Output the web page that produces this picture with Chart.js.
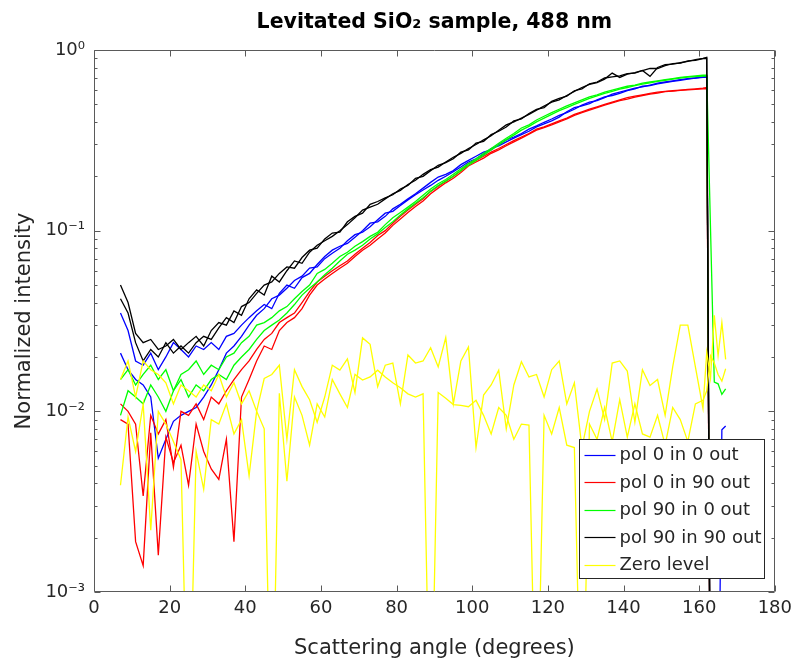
<!DOCTYPE html>
<html><head><meta charset="utf-8">
<script src="https://cdn.jsdelivr.net/npm/chart.js@4.4.1/dist/chart.umd.min.js"></script>
<style>html,body{margin:0;padding:0;background:#fff;} canvas{display:block;}</style>
</head><body>
<canvas id="c" width="798" height="661"></canvas>
<script>
const angles = [7,9,11,13,15,17,19,21,23,25,27,29,31,33,35,37,39,41,43,45,47,49,51,53,55,57,59,61,63,65,67,69,71,73,75,77,79,81,83,85,87,89,91,93,95,97,99,101,103,105,107,109,111,113,115,117,119,121,123,125,127,129,131,133,135,137,139,141,143,145,147,149,151,153,155,157,159,161,162,163,164,165,166,167];

const pol0in0A = [0.035,0.028,0.019,0.018,0.021,0.017,0.020,0.024,0.022,0.020,
0.023,0.022,0.024,0.022,0.026,0.027,0.030,0.033,0.036,0.039,
0.037,0.045,0.050,0.048,0.055,0.058,0.065,0.072,0.078,0.082,
0.085,0.092,0.100,0.110,0.112,0.120,0.132,0.140,0.150,0.160,
0.172,0.185,0.198,0.205,0.215,0.232,0.245,0.258,0.272,0.280,
0.300,0.318,0.330,0.345,0.365,0.380,0.398,0.415,0.435,0.450,
0.470,0.495,0.515,0.525,0.545,0.570,0.585,0.600,0.615,0.625,
0.640,0.655,0.665,0.675,0.685,0.695,0.700,0.710,
0.715,0.0001,null,null,null,null];
const pol0in0B = [0.021,0.017,0.015,0.014,0.012,0.0055,0.0070,0.0088,0.0095,0.010,
0.0105,0.012,0.014,0.017,0.021,0.023,0.026,0.030,0.034,0.037,
0.042,0.044,0.048,0.053,0.056,0.062,0.063,0.070,0.075,0.080,
0.088,0.095,0.098,0.105,0.115,0.125,0.128,0.138,0.148,0.158,
0.168,0.178,0.190,0.200,0.212,0.225,0.240,0.250,0.265,0.285,
0.295,0.310,0.325,0.340,0.355,0.375,0.390,0.405,0.425,0.455,
0.480,0.490,0.505,0.530,0.550,0.560,0.575,0.595,0.610,0.630,
0.635,0.650,0.660,0.670,0.680,0.690,0.700,0.705,
0.705,0.0001,0.0001,0.0001,0.0079,0.0083];

const pol0in90A = [0.011,0.010,0.0085,0.0034,0.0095,0.0075,0.009,0.0049,0.010,0.0095,
0.011,0.009,0.012,0.011,0.013,0.015,0.017,0.019,0.022,0.025,
0.027,0.031,0.033,0.035,0.040,0.046,0.052,0.056,0.060,0.064,
0.068,0.074,0.080,0.086,0.094,0.100,0.110,0.120,0.130,0.140,
0.150,0.165,0.176,0.188,0.200,0.215,0.235,0.245,0.258,0.272,
0.285,0.300,0.315,0.330,0.345,0.365,0.375,0.390,0.405,0.420,
0.440,0.455,0.470,0.485,0.500,0.515,0.530,0.545,0.555,0.565,
0.575,0.585,0.590,0.595,0.600,0.605,0.610,0.615,
0.620,0.0001,null,null,null,null];
const pol0in90B = [0.009,0.0085,0.0019,0.0014,0.0076,0.0016,0.0072,0.0052,0.0065,0.0039,
0.0085,0.0060,0.0048,0.0042,0.0070,0.0019,0.012,0.015,0.019,0.023,
0.022,0.028,0.031,0.033,0.037,0.044,0.050,0.054,0.058,0.062,
0.066,0.072,0.078,0.083,0.090,0.097,0.107,0.116,0.126,0.136,
0.146,0.160,0.172,0.184,0.195,0.210,0.228,0.240,0.252,0.268,
0.280,0.295,0.310,0.325,0.342,0.360,0.372,0.385,0.400,0.415,
0.435,0.450,0.465,0.480,0.495,0.510,0.525,0.535,0.548,0.560,
0.570,0.578,0.588,0.592,0.598,0.602,0.605,0.610,
0.612,0.0001,null,null,null,null];

const pol90in0A = [0.015,0.017,0.014,0.016,0.018,0.015,0.017,0.013,0.016,0.017,
0.019,0.016,0.018,0.017,0.020,0.021,0.024,0.026,0.030,0.031,
0.033,0.036,0.038,0.042,0.046,0.050,0.058,0.061,0.066,0.072,
0.076,0.082,0.087,0.093,0.098,0.108,0.118,0.126,0.135,0.145,
0.157,0.170,0.182,0.192,0.205,0.220,0.235,0.250,0.268,0.285,
0.305,0.325,0.345,0.370,0.385,0.410,0.430,0.450,0.470,0.490,
0.510,0.530,0.550,0.565,0.585,0.600,0.615,0.630,0.640,0.655,
0.665,0.675,0.685,0.695,0.705,0.712,0.718,0.725,
0.725,null,0.0145,0.0142,0.0124,0.0133];
const pol90in0B = [0.0095,0.013,0.012,0.011,0.014,0.012,0.010,0.013,0.015,0.012,
0.014,0.013,0.015,0.016,0.015,0.018,0.020,0.022,0.025,0.028,
0.030,0.032,0.035,0.039,0.044,0.048,0.052,0.057,0.062,0.068,
0.074,0.078,0.083,0.090,0.096,0.104,0.112,0.122,0.132,0.142,
0.152,0.165,0.178,0.188,0.200,0.215,0.230,0.245,0.262,0.280,
0.298,0.318,0.338,0.360,0.378,0.400,0.420,0.440,0.462,0.480,
0.500,0.520,0.540,0.558,0.575,0.590,0.608,0.620,0.635,0.648,
0.658,0.670,0.680,0.690,0.700,0.708,0.712,0.718,
0.720,0.0001,null,null,null,null];

const pol90in90A = [0.050,0.040,0.027,0.024,0.025,0.022,0.023,0.025,0.022,0.024,
0.026,0.023,0.028,0.031,0.030,0.036,0.034,0.042,0.047,0.044,
0.056,0.052,0.060,0.068,0.066,0.076,0.083,0.088,0.093,0.100,
0.108,0.118,0.130,0.135,0.140,0.150,0.160,0.167,0.180,0.190,
0.205,0.218,0.225,0.240,0.255,0.268,0.285,0.300,0.318,0.335,
0.360,0.385,0.400,0.420,0.440,0.465,0.490,0.515,0.530,0.560,
0.590,0.620,0.645,0.660,0.690,0.745,0.705,0.735,0.750,0.770,
0.715,0.800,0.830,0.835,0.850,0.865,0.885,0.900,
0.910,0.0001,null,null,null,null];
const pol90in90B = [0.042,0.035,0.024,0.019,0.022,0.020,0.024,0.021,0.023,0.021,
0.024,0.026,0.025,0.029,0.033,0.031,0.038,0.040,0.045,0.050,
0.052,0.058,0.063,0.062,0.071,0.078,0.080,0.090,0.097,0.098,
0.112,0.120,0.125,0.140,0.145,0.152,0.158,0.170,0.178,0.195,
0.200,0.215,0.230,0.238,0.250,0.272,0.280,0.305,0.312,0.340,
0.355,0.375,0.405,0.415,0.445,0.470,0.480,0.520,0.540,0.555,
0.595,0.610,0.650,0.665,0.700,0.710,0.720,0.740,0.745,0.770,
0.790,0.790,0.820,0.840,0.845,0.870,0.875,0.895,
0.900,0.0001,null,null,null,null];

const zeroLevelA = [0.015,0.019,0.012,0.019,0.017,0.016,0.0144,0.011,0.014,0.013,
0.012,0.014,0.013,0.016,0.012,0.0144,0.011,0.013,0.010,0.0152,
0.016,0.018,0.007,0.017,0.0137,0.0116,0.0087,0.012,0.018,0.0169,
0.0195,0.0127,0.0255,0.0235,0.0137,0.018,0.0185,0.011,0.0205,0.0185,
0.019,0.0225,0.0176,0.0256,0.011,0.019,0.0227,0.0063,0.0123,0.014,
0.0169,0.008,0.014,0.0188,0.0155,0.016,0.012,0.017,0.019,0.011,
0.0144,0.0063,0.010,0.0133,0.009,0.0185,0.019,0.0167,0.0087,0.017,
0.0139,0.015,0.0095,0.0176,0.030,0.030,0.0176,0.0104,
0.0212,0.0153,0.034,0.0203,0.031,0.0194];
const zeroLevelB = [0.0039,0.0093,0.006,0.011,0.0022,0.010,0.0085,0.0068,0.0054,0.0001,
0.006,0.0037,0.009,0.0085,0.011,0.0075,0.009,0.0044,0.010,0.008,
0.0001,0.0126,0.0041,0.012,0.0095,0.0065,0.011,0.0093,0.015,0.0125,
0.0105,0.016,0.0149,0.0155,0.0169,0.0155,0.0144,0.0135,0.0125,0.012,
0.0125,0.0001,0.0127,0.0118,0.0109,0.0108,0.0106,0.0115,0.0095,0.0075,
0.0105,0.0095,0.007,0.0085,0.0084,0.0001,0.0095,0.0075,0.0105,0.0065,
0.0063,0.0001,0.0085,0.007,0.0105,0.0068,0.0116,0.0072,0.011,0.0075,
0.0072,0.0095,0.0065,0.0105,0.009,0.0068,0.011,0.0115,
0.013,0.0203,0.0185,0.016,0.0147,0.0172];

const seriesNames = ['pol 0 in 0 out','pol 0 in 90 out','pol 90 in 0 out','pol 90 in 90 out','Zero level'];
const seriesColors = ['#0000ff','#ff0000','#00ff00','#000000','#ffff00'];
const seriesTraces = [[pol0in0A,pol0in0B],[pol0in90A,pol0in90B],[pol90in0A,pol90in0B],[pol90in90A,pol90in90B],[zeroLevelA,zeroLevelB]];

const xTicks = [0,20,40,60,80,100,120,140,160,180];
const yTicks = [0.001,0.01,0.1,1];
const yTickLabels = ['10\u207B\u00B3','10\u207B\u00B2','10\u207B\u00B9','10\u2070'];
const yMinorTicks = [0.002,0.003,0.004,0.005,0.006,0.007,0.008,0.009,0.02,0.03,0.04,0.05,0.06,0.07,0.08,0.09,0.2,0.3,0.4,0.5,0.6,0.7,0.8,0.9];

const FONT = '"DejaVu Sans", sans-serif';
const TXT = '#262626';

function toPts(vals){
  const out=[];
  vals.forEach((v,i)=>{ if(v!==null) out.push({x:angles[i], y:v}); });
  return out;
}

const datasets=[];
seriesTraces.forEach((traces,k)=>{
  traces.forEach((tr,j)=>{
    datasets.push({
      label: seriesNames[k],
      data: toPts(tr),
      borderColor: seriesColors[k],
      backgroundColor: seriesColors[k],
      borderWidth: 1.3,
      pointRadius: 0,
      tension: 0,
      fill: false,
      order: seriesTraces.length-1-k,
      legendEntry: j===0
    });
  });
});

const framePlugin = {
  id:'frameAndLegend',
  afterDraw(chart){
    const {ctx, chartArea, scales} = chart;
    const {left,right,top,bottom} = chartArea;
    const xs=scales.x, ys=scales.y;
    ctx.save();
    ctx.strokeStyle='#5a5a5a';
    ctx.lineWidth=1;
    const L=Math.round(left)+0.5, R=Math.round(right)-0.5, T=Math.round(top)+0.5, B=Math.round(bottom)-0.5;
    ctx.beginPath();
    ctx.rect(L,T,R-L,B-T);
    ctx.stroke();
    ctx.beginPath();
    xTicks.forEach(v=>{
      const p=Math.round(xs.getPixelForValue(v))+0.5;
      ctx.moveTo(p,B); ctx.lineTo(p,B-6);
      ctx.moveTo(p,T); ctx.lineTo(p,T+6);
    });
    yTicks.forEach(v=>{
      const p=Math.round(ys.getPixelForValue(v))+0.5;
      ctx.moveTo(L,p); ctx.lineTo(L+6,p);
      ctx.moveTo(R,p); ctx.lineTo(R-6,p);
    });
    yMinorTicks.forEach(v=>{
      const p=Math.round(ys.getPixelForValue(v))+0.5;
      ctx.moveTo(L,p); ctx.lineTo(L+3,p);
      ctx.moveTo(R,p); ctx.lineTo(R-3,p);
    });
    ctx.stroke();

    // legend box
    ctx.font='18px '+FONT;
    const entries = chart.data.datasets.filter(d=>d.legendEntry);
    let maxW=0;
    entries.forEach(d=>{ maxW=Math.max(maxW, ctx.measureText(d.label).width); });
    const rowH=27.5, lineLen=31;
    const boxW=Math.round(5+lineLen+4+maxW+3);
    const boxH=Math.round(entries.length*rowH+1);
    const bx=Math.round(right-11-boxW)+0.5, by=Math.round(bottom-14-boxH)+0.5;
    ctx.fillStyle='#ffffff';
    ctx.fillRect(bx,by,boxW,boxH);
    ctx.strokeStyle='#262626';
    ctx.strokeRect(bx,by,boxW,boxH);
    ctx.textBaseline='middle';
    ctx.textAlign='left';
    entries.forEach((d,i)=>{
      const cy=by+15+i*rowH;
      ctx.strokeStyle=d.borderColor;
      ctx.lineWidth=1.2;
      ctx.beginPath();
      ctx.moveTo(bx+5,Math.round(cy)+0.5); ctx.lineTo(bx+5+lineLen,Math.round(cy)+0.5);
      ctx.stroke();
      ctx.fillStyle=TXT;
      ctx.fillText(d.label,bx+5+lineLen+4,cy+1);
    });
    ctx.restore();
  }
};

new Chart(document.getElementById('c'),{
  type:'line',
  data:{datasets},
  options:{
    responsive:false,
    animation:false,
    devicePixelRatio:1,
    layout:{padding:{left:0,right:21,top:0,bottom:0}},
    plugins:{
      legend:{display:false},
      tooltip:{enabled:false},
      title:{display:true,fullSize:false,text:'Levitated SiO\u2082 sample, 488 nm',color:'#000',
        font:{family:FONT,size:20.5,weight:'bold'},padding:{top:10,bottom:15.4}}
    },
    scales:{
      x:{type:'linear',min:0,max:180,
        afterBuildTicks:s=>{s.ticks=xTicks.map(v=>({value:v}));},
        ticks:{font:{family:FONT,size:18},color:TXT,padding:6,maxRotation:0,autoSkip:false},
        grid:{display:false,drawTicks:false},
        border:{display:false},
        title:{display:true,text:'Scattering angle (degrees)',color:TXT,font:{family:FONT,size:21},padding:{top:2,bottom:0}},
        afterFit:s=>{s.height=69;}
      },
      y:{type:'logarithmic',min:0.001,max:1,
        afterBuildTicks:s=>{s.ticks=yTicks.map(v=>({value:v}));},
        ticks:{font:{family:FONT,size:18},color:TXT,padding:9,autoSkip:false,
          callback:(v)=>{const i=yTicks.findIndex(t=>Math.abs(Math.log10(t)-Math.log10(v))<1e-6);return i>=0?yTickLabels[i]:'';}},
        grid:{display:false,drawTicks:false},
        border:{display:false},
        title:{display:true,text:'Normalized intensity',color:TXT,font:{family:FONT,size:21},padding:{top:12,bottom:0}},
        afterFit:s=>{s.width=94;}
      }
    }
  },
  plugins:[framePlugin]
});
</script>
</body></html>
